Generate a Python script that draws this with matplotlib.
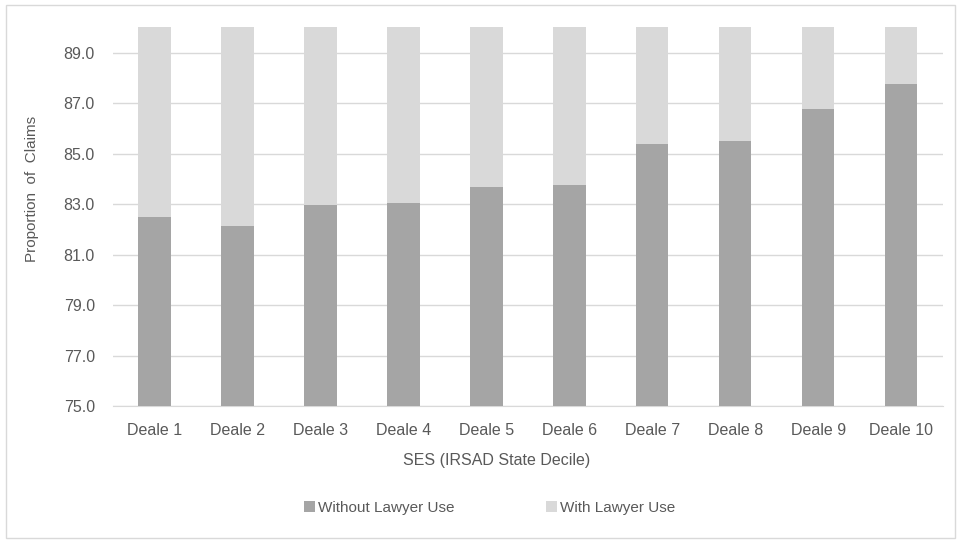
import matplotlib.pyplot as plt
from matplotlib.patches import Rectangle
import numpy as np

# data
deciles = ['Deale 1', 'Deale 2', 'Deale 3', 'Deale 4', 'Deale 5',
           'Deale 6', 'Deale 7', 'Deale 8', 'Deale 9', 'Deale 10']
without_lawyer = [82.49, 82.11, 82.96, 83.03, 83.69, 83.76, 85.36, 85.49, 86.78, 87.76]
with_lawyer = [100 - v for v in without_lawyer]
y_ticks = [75, 77, 79, 81, 83, 85, 87, 89]

plt.rcParams['font.family'] = ['Liberation Sans Narrow', 'Liberation Sans', 'DejaVu Sans']
text_col = '#595959'

fig = plt.figure(figsize=(9.58, 5.45), dpi=100)
ax = fig.add_axes([0.118, 0.255, 0.866, 0.695])

x = np.arange(len(deciles))
ax.bar(x, without_lawyer, width=0.39, color='#A5A5A5', label='Without Lawyer Use', zorder=3)
ax.bar(x, with_lawyer, width=0.39, bottom=without_lawyer, color='#D9D9D9',
       label='With Lawyer Use', zorder=3)

ax.set_ylim(75, 90)
ax.set_xlim(-0.5, len(deciles) - 0.5)
ax.set_yticks(y_ticks)
ax.set_yticklabels([f'{t:.1f}' for t in y_ticks])
ax.set_xticks(x)
ax.set_xticklabels(deciles)
ax.grid(axis='y', color='#D9D9D9', linewidth=1, zorder=0)
for s in ['top', 'right', 'left']:
    ax.spines[s].set_visible(False)
ax.spines['bottom'].set_color('#D9D9D9')
ax.tick_params(length=0, colors=text_col, labelsize=11.5)
ax.tick_params(axis='y', pad=13)
ax.tick_params(axis='x', pad=12)

ax.set_ylabel('Proportion  of  Claims', color=text_col, fontsize=11, va='center')
ax.yaxis.set_label_coords(-0.0976, 0.573)
ax.set_xlabel('SES (IRSAD State Decile)', color=text_col, fontsize=11.5, va='center')
ax.xaxis.set_label_coords(0.462, -0.1425)

fig.legend(loc='center', bbox_to_anchor=(0.511, 0.068), ncol=2, frameon=False,
           fontsize=11, handlelength=0.7, handleheight=0.7, handletextpad=0.2,
           columnspacing=6, labelcolor=text_col)

# chart area border
fig.patches.append(Rectangle((6 / 958, 7 / 545), 949 / 958, 533 / 545,
                             transform=fig.transFigure, fill=False,
                             edgecolor='#D9D9D9', linewidth=1))

plt.savefig('out.png', dpi=100)
